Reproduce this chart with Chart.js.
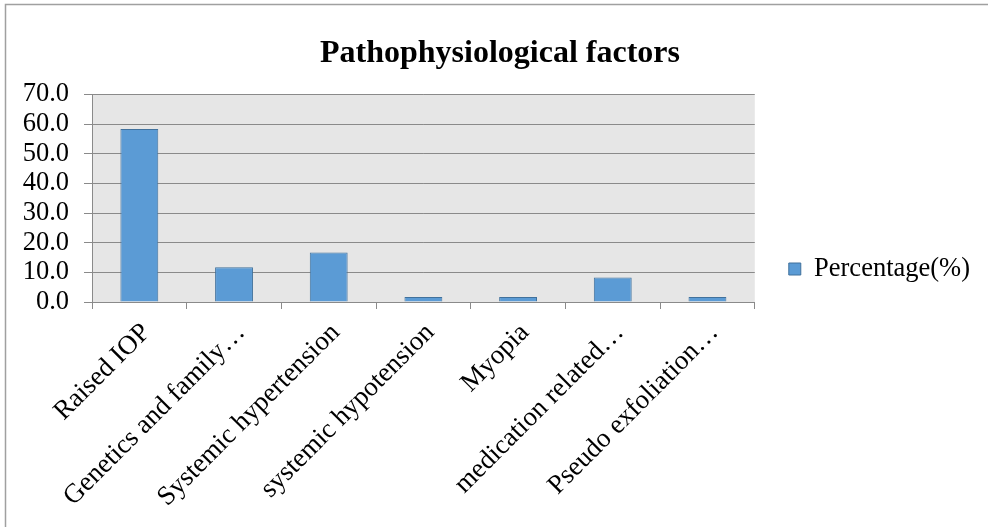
<!DOCTYPE html>
<html>
<head>
<meta charset="utf-8">
<script src="https://cdn.jsdelivr.net/npm/chart.js@4"></script>
<style>
  html, body { margin: 0; padding: 0; background: #ffffff; }
  #wrap { position: relative; width: 988px; height: 527px; }
</style>
</head>
<body>
<div id="wrap"><canvas id="c" width="988" height="527"></canvas></div>
<script>
const categories = [
  "Raised IOP",
  "Genetics and family\u2026",
  "Systemic hypertension",
  "systemic hypotension",
  "Myopia",
  "medication related\u2026",
  "Pseudo exfoliation\u2026"
];
const percentages = [58.3, 11.7, 16.7, 1.7, 1.7, 8.3, 1.7];
const seriesName = "Percentage(%)";
const chartTitle = "Pathophysiological factors";
const yTickValues = [0, 10, 20, 30, 40, 50, 60, 70];

const SERIF = "'Liberation Serif', 'Times New Roman', serif";
const GRID = "#8a8a8a";

const plotBg = {
  id: 'plotBg',
  beforeDraw(chart) {
    const { ctx, chartArea: a } = chart;
    ctx.save();
    ctx.fillStyle = '#e6e6e6';
    ctx.fillRect(a.left, a.top, a.right - a.left, a.bottom - a.top);
    ctx.restore();
  },
  afterDraw(chart) {
    const ctx = chart.ctx;
    ctx.save();
    ctx.strokeStyle = '#a0a0a0';
    ctx.lineWidth = 1.5;
    ctx.beginPath();
    ctx.moveTo(5.5, 530);
    ctx.lineTo(5.5, 4.5);
    ctx.lineTo(990, 4.5);
    ctx.stroke();
    ctx.restore();
  }
};

new Chart(document.getElementById('c'), {
  type: 'bar',
  data: {
    labels: categories,
    datasets: [{
      label: seriesName,
      data: percentages,
      backgroundColor: '#5b9bd5',
      borderColor: '#41719c',
      borderWidth: 1,
      barPercentage: 1,
      categoryPercentage: 0.4
    }]
  },
  options: {
    responsive: false,
    animation: false,
    layout: { padding: { left: 20, top: 11, right: 8, bottom: 0 } },
    plugins: {
      title: {
        display: true,
        text: chartTitle,
        color: '#000',
        font: { family: SERIF, size: 32, weight: 'bold' },
        padding: { top: 24, bottom: 21 }
      },
      legend: {
        position: 'right',
        labels: {
          color: '#000',
          font: { family: SERIF, size: 26.5 },
          boxWidth: 12,
          boxHeight: 12,
          padding: 34
        }
      },
      tooltip: { enabled: false }
    },
    scales: {
      x: {
        grid: { drawOnChartArea: false, drawTicks: true, tickLength: 7, color: GRID, offset: true },
        border: { color: GRID, width: 1 },
        ticks: {
          color: '#000',
          font: { family: SERIF, size: 27 },
          maxRotation: 45,
          minRotation: 45,
          autoSkip: false,
          labelOffset: 7,
          padding: 8
        },
        afterFit(scale) { scale.height = 225; }
      },
      y: {
        min: 0,
        max: 70,
        afterBuildTicks(scale) { scale.ticks = yTickValues.map(v => ({ value: v })); },
        grid: { color: GRID, tickLength: 8, lineWidth: 1 },
        border: { color: GRID, width: 1 },
        ticks: {
          color: '#000',
          font: { family: SERIF, size: 26.5 },
          padding: 15,
          autoSkip: false,
          callback: v => Number(v).toFixed(1)
        },
        afterFit(scale) { scale.width = 72; }
      }
    }
  },
  plugins: [plotBg]
});
</script>
</body>
</html>
